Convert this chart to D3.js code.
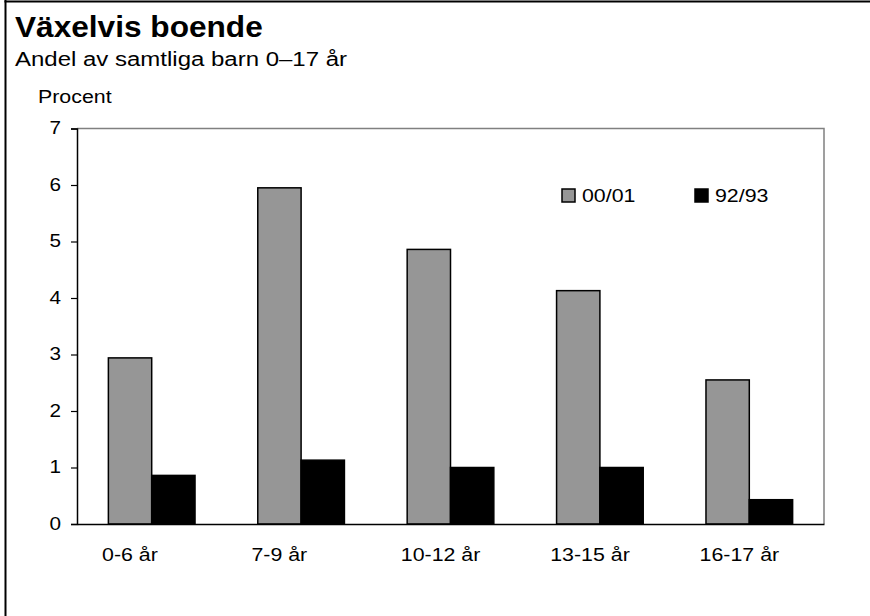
<!DOCTYPE html>
<html><head><meta charset="utf-8">
<script src="https://cdn.jsdelivr.net/npm/d3@7"></script>
<style>
body{margin:0;background:#fff;}
text{font-family:"Liberation Sans",Arial,Helvetica,sans-serif;fill:#000;}
</style></head>
<body>
<svg id="chart" width="870" height="616"></svg>
<script>
const categories = ["0-6 år","7-9 år","10-12 år","13-15 år","16-17 år"];
const seriesNames = ["00/01","92/93"];
const values0001 = [2.94, 5.95, 4.86, 4.13, 2.55];
const values9293 = [0.86, 1.13, 1.00, 1.00, 0.43];
const yTicks = [0,1,2,3,4,5,6,7];
const title = "Växelvis boende";
const subtitle = "Andel av samtliga barn 0–17 år";
const yLabel = "Procent";

const colors = {"00/01":"#969696","92/93":"#000000"};
const series = [values0001, values9293];
const STRETCH = 1.22;

const svg = d3.select("#chart");
function stretch(sel, k){
  sel.each(function(){
    const w = this.getComputedTextLength();
    d3.select(this).attr("textLength", w*k).attr("lengthAdjust","spacingAndGlyphs");
  });
}

// outer frame (left and top)
svg.append("line").attr("x1",5.5).attr("x2",5.5).attr("y1",0).attr("y2",616).attr("stroke","#000").attr("stroke-width",2);
svg.append("line").attr("x1",4.5).attr("x2",870).attr("y1",1.5).attr("y2",1.5).attr("stroke","#000").attr("stroke-width",2);

svg.append("text").attr("x",15).attr("y",36.5).attr("font-size",29).attr("font-weight","bold").text(title)
  .call(stretch,1.09);
svg.append("text").attr("x",15).attr("y",65.5).attr("font-size",19.5).text(subtitle).call(stretch,1.23);
svg.append("text").attr("x",38).attr("y",102.5).attr("font-size",17.5).text(yLabel).call(stretch,STRETCH);

const pLeft=77, pRight=824, pTop=128.5, pBottom=524;
const x0 = d3.scaleBand().domain(categories).range([pLeft,pRight]).paddingInner(0.42).paddingOuter(0.21);
const x1 = d3.scaleBand().domain(seriesNames).range([0,x0.bandwidth()]);
const y = d3.scaleLinear().domain([0,7]).range([pBottom,pTop]);

// plot frame top & right (gray)
svg.append("path").attr("d",`M${pLeft},${pTop}H${pRight}V${pBottom}`).attr("fill","none").attr("stroke","#808080").attr("stroke-width",1.5);

// bars
const g = svg.append("g");
categories.forEach((c,i)=>{
  seriesNames.forEach((s,j)=>{
    const v = series[j][i];
    g.append("rect")
      .attr("x",x0(c)+x1(s)).attr("width",x1.bandwidth())
      .attr("y",y(v)).attr("height",y(0)-y(v))
      .attr("fill",colors[s]).attr("stroke","#000").attr("stroke-width",1.5);
  });
});

// y axis
const ya = svg.append("g").attr("transform",`translate(${pLeft},0)`)
  .call(d3.axisLeft(y).tickValues(yTicks).tickFormat(d3.format("d")).tickSize(6).tickPadding(10));
ya.select(".domain").attr("stroke","#000").attr("stroke-width",1.5);
ya.selectAll(".tick line").attr("stroke","#000").attr("stroke-width",1.2);
ya.selectAll("text").attr("font-size",18).attr("font-family","Liberation Sans, Arial, sans-serif").attr("fill","#000").attr("dy","0.3em")
  .call(stretch,1.15);

// x axis
const xa = svg.append("g").attr("transform",`translate(0,${pBottom})`)
  .call(d3.axisBottom(x0).tickSize(0).tickPadding(0));
xa.select(".domain").attr("stroke","#000").attr("stroke-width",1.5);
xa.selectAll(".tick text")
  .attr("font-size",17.5).attr("font-family","Liberation Sans, Arial, sans-serif").attr("fill","#000")
  .attr("text-anchor","start").attr("dy",0).attr("y",37)
  .attr("x", -x0.step()/2 + 25)
  .call(stretch,STRETCH);

// legend
const legX = [562, 695];
seriesNames.forEach((s,j)=>{
  const lg = svg.append("g").attr("transform",`translate(${legX[j]},189)`);
  lg.append("rect").attr("width",13).attr("height",13).attr("fill",colors[s]).attr("stroke","#000").attr("stroke-width",1.5);
  lg.append("text").attr("x",20).attr("y",13).attr("font-size",17.5).text(s).call(stretch,STRETCH);
});
</script>
</body></html>
